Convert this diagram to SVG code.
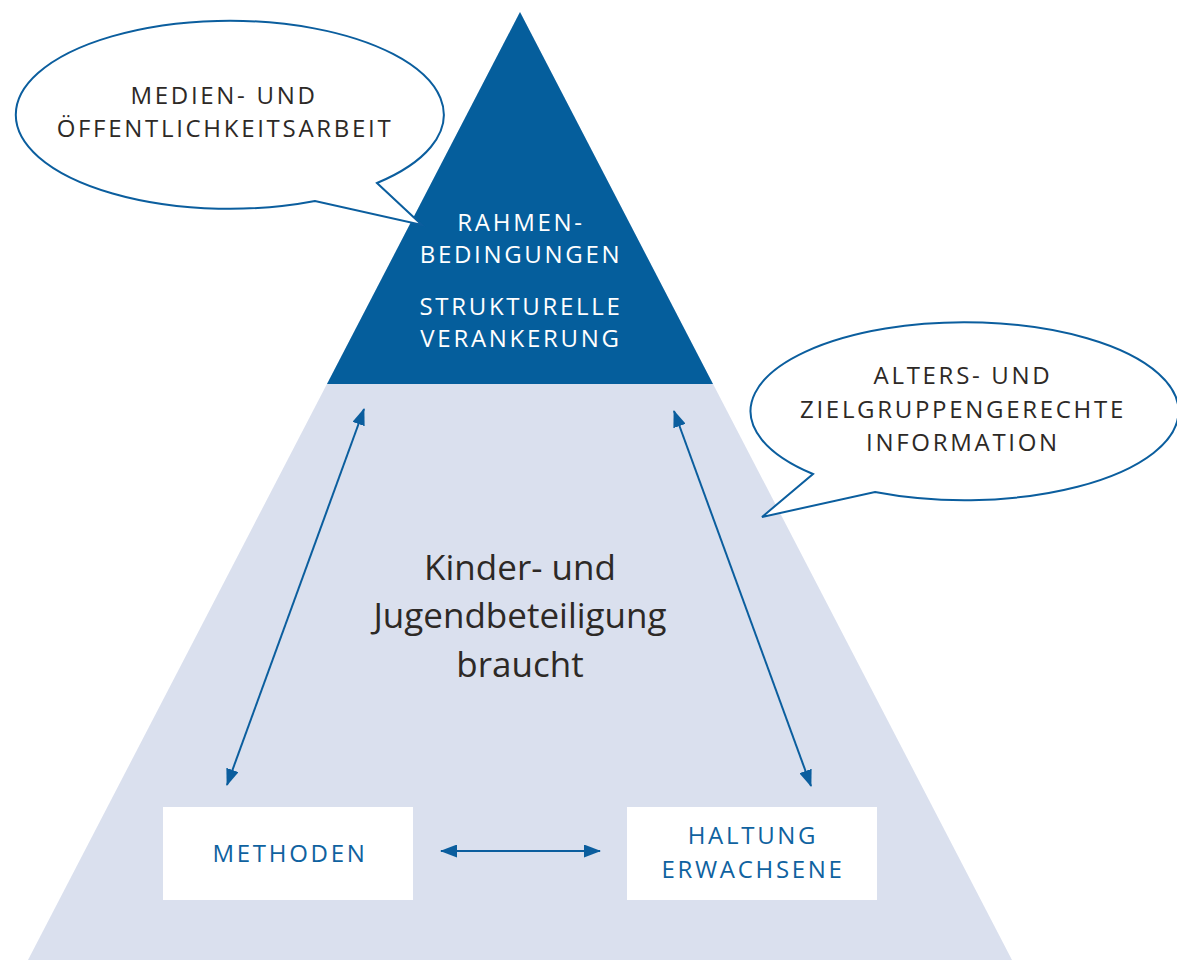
<svg xmlns="http://www.w3.org/2000/svg" width="1177" height="960" viewBox="0 0 1177 960">
<defs>
<style>
.caps{font-family:"Open Sans","Liberation Sans",sans-serif;font-size:24px;letter-spacing:2.7px;text-anchor:middle}
.dark{fill:#2d2926}
.white{fill:#ffffff}
.blue{fill:#0f62a0}
.big{font-family:"Open Sans","Liberation Sans",sans-serif;font-size:35px;fill:#2d2926;text-anchor:middle}
.bubble{fill:#ffffff;stroke:#0b5e9e;stroke-width:2;stroke-linejoin:miter}
.conn{stroke:#0b5e9e;stroke-width:2;fill:none;marker-start:url(#ah);marker-end:url(#ah)}
</style>
<marker id="ah" viewBox="0 0 17 13" refX="16" refY="6.5" markerWidth="17" markerHeight="13" markerUnits="userSpaceOnUse" orient="auto-start-reverse">
<path d="M0 0 L17 6.5 L0 13 Z" fill="#0b5e9e"/>
</marker>
</defs>
<g id="pyramid-base">
<polygon points="520,12 1012,960 28,960" fill="#dae0ee"/>
</g>
<g id="pyramid-top">
<polygon points="520,12 713,384 327,384" fill="#055e9c"/>
<text class="caps white" x="521" y="231">RAHMEN-</text>
<text class="caps white" x="521" y="263">BEDINGUNGEN</text>
<text class="caps white" x="521" y="315">STRUKTURELLE</text>
<text class="caps white" x="521" y="347">VERANKERUNG</text>
</g>
<g id="center-text">
<text class="big" x="520" y="580">Kinder- und</text>
<text class="big" x="520" y="628">Jugendbeteiligung</text>
<text class="big" x="520" y="677">braucht</text>
</g>
<g id="bubble-medien">
<path class="bubble" d="M315 201 A214 94 0 1 1 377 183 L422 225 Z"/>
<text class="caps dark" x="224" y="104">MEDIEN- UND</text>
<text class="caps dark" x="225" y="137">ÖFFENTLICHKEITSARBEIT</text>
</g>
<g id="bubble-info">
<path class="bubble" d="M813 474 A214 89 0 1 1 875 492 L762 517 Z"/>
<text class="caps dark" x="963" y="384">ALTERS- UND</text>
<text class="caps dark" x="963" y="418">ZIELGRUPPENGERECHTE</text>
<text class="caps dark" x="963" y="451">INFORMATION</text>
</g>
<g id="node-methoden">
<rect x="163" y="807" width="250" height="93" fill="#ffffff"/>
<text class="caps blue" x="290" y="862">METHODEN</text>
</g>
<g id="node-haltung">
<rect x="627" y="807" width="250" height="93" fill="#ffffff"/>
<text class="caps blue" x="753" y="844">HALTUNG</text>
<text class="caps blue" x="753" y="878">ERWACHSENE</text>
</g>
<g id="connectors">
<line class="conn" x1="364" y1="409" x2="227" y2="785"/>
<line class="conn" x1="674" y1="411" x2="811" y2="786"/>
<line class="conn" x1="441" y1="851" x2="600" y2="851"/>
</g>
</svg>
